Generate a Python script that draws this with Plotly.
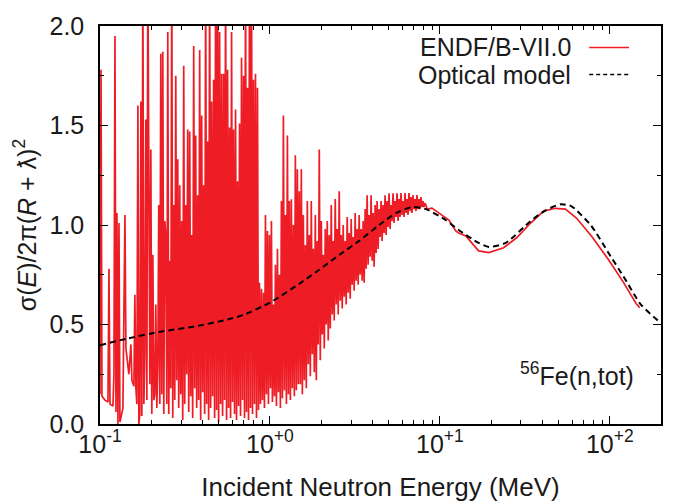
import plotly.graph_objects as go

# ---------------- data ----------------
endf_energy = [
    0.1000, 0.1000, 0.1014, 0.1027, 0.1070, 0.1114, 0.1129, 0.1145, 0.1192, 0.1208,
    0.1225, 0.1241, 0.1258, 0.1275, 0.1293, 0.1310, 0.1364, 0.1402, 0.1421, 0.1479,
    0.1520, 0.1541, 0.1583, 0.1604, 0.1626, 0.1648, 0.1671, 0.1693, 0.1716, 0.1740,
    0.1763, 0.1787, 0.1812, 0.1836, 0.1861, 0.1887, 0.1912, 0.1938, 0.1965, 0.1991,
    0.2018, 0.2046, 0.2074, 0.2102, 0.2130, 0.2159, 0.2189, 0.2218, 0.2249, 0.2279,
    0.2310, 0.2342, 0.2373, 0.2406,
    0.2438, 0.2472, 0.2505, 0.2539, 0.2574, 0.2609, 0.2644, 0.2680, 0.2717, 0.2754,
    0.2791, 0.2829, 0.2867, 0.2906, 0.2946, 0.2986, 0.3026, 0.3068, 0.3109, 0.3152,
    0.3194, 0.3238, 0.3282, 0.3327, 0.3372, 0.3418, 0.3464, 0.3511, 0.3559, 0.3607,
    0.3656, 0.3706, 0.3757, 0.3808, 0.3859, 0.3912, 0.3965, 0.4019, 0.4074, 0.4129,
    0.4185, 0.4242, 0.4300, 0.4358, 0.4417, 0.4477, 0.4538, 0.4600, 0.4663, 0.4726,
    0.4790, 0.4855, 0.4921, 0.4988, 0.5056, 0.5125, 0.5194, 0.5265, 0.5337, 0.5409,
    0.5483, 0.5557, 0.5633, 0.5709, 0.5787, 0.5866, 0.5946, 0.6026, 0.6108, 0.6191,
    0.6276, 0.6361, 0.6447, 0.6535, 0.6624, 0.6714, 0.6805, 0.6898, 0.6992, 0.7087,
    0.7183, 0.7281, 0.7380, 0.7480, 0.7582, 0.7685, 0.7789, 0.7895, 0.8003, 0.8111,
    0.8222, 0.8333, 0.8447, 0.8561, 0.8678, 0.8796, 0.8915, 0.9037, 0.9160, 0.9284,
    0.9410, 0.9538, 0.9668, 0.9799, 0.9933, 1.007, 1.020, 1.034, 1.048, 1.063,
    1.077, 1.092, 1.107, 1.122, 1.137, 1.152, 1.168, 1.184, 1.200, 1.216,
    1.233, 1.250, 1.267, 1.284, 1.301, 1.319, 1.337, 1.355, 1.374, 1.392,
    1.411, 1.430, 1.450, 1.469,
    1.489, 1.510, 1.530, 1.551, 1.572, 1.593, 1.615, 1.637, 1.659, 1.682,
    1.705, 1.728, 1.751, 1.775, 1.799, 1.824, 1.849, 1.874, 1.899, 1.925,
    1.951, 1.978, 2.005, 2.032, 2.060, 2.088, 2.116, 2.145, 2.174, 2.203,
    2.233, 2.264, 2.295, 2.326, 2.357, 2.389, 2.422, 2.455, 2.488, 2.522,
    2.556, 2.591, 2.626, 2.662, 2.698, 2.735, 2.772, 2.810, 2.848, 2.887,
    2.926, 2.966, 3.006, 3.047, 3.088, 3.130, 3.173, 3.216, 3.260, 3.304,
    3.349, 3.395, 3.441, 3.488, 3.535, 3.583, 3.632, 3.681, 3.731, 3.782,
    3.833, 3.885, 3.938, 3.992, 4.046, 4.101, 4.157, 4.213, 4.271, 4.329,
    4.388, 4.447, 4.508, 4.569, 4.631, 4.694, 4.758, 4.823, 4.888, 4.955,
    5.022, 5.090, 5.159, 5.230, 5.301, 5.373, 5.446, 5.520, 5.595, 5.671,
    5.748, 5.826, 5.905, 5.986, 6.067, 6.150, 6.233, 6.318, 6.404, 6.491,
    6.579, 6.669, 6.759, 6.851, 6.944, 7.039, 7.135, 7.232, 7.330, 7.429,
    7.531, 7.633, 7.737, 7.842, 7.949, 8.057, 8.166, 8.277, 8.390,
    8.976, 10.3, 11.3, 12.4, 13.0, 14.2, 16.9, 19.4, 23.7, 28.3,
    34.2, 40.7, 47.9, 54.8, 63.6, 77.9, 98.0, 120.0, 143.0, 150.0,
]
endf_sigma = [
    0.52, 0.15, 1.78, 0.14, 0.12, 0.11, 0.78, 0.10, 0.09, 0.25,
    1.95, 0.06, 1.06, 0.00, 1.01, 0.01, 0.08, 1.05, 0.38, 0.25,
    0.40, 0.22, 0.19, 0.65, 0.18, 0.10, 1.60, 0.00, 0.05, 1.62,
    0.04, 2.30, 0.10, 0.35, 1.53, 0.12, 2.30, 1.15, 0.20, 1.38,
    0.05, 0.85, 0.12, 0.15, 0.60, 0.08, 0.30, 1.10, 0.10, 1.86,
    0.15, 1.87, 0.05, 1.02,
    0.95, 0.10, 1.97, 0.05, 0.82, 0.18, 2.30, 0.03, 1.10, 0.12,
    1.75, 0.22, 1.33, 0.08, 1.20, 0.15, 1.02, 0.02, 1.80, 0.10,
    1.10, 0.25, 1.48, 0.06, 1.47, 0.14, 0.95, 0.03, 1.90, 0.18,
    1.45, 0.08, 1.15, 0.12, 1.88, 0.02, 1.55, 0.16, 1.20, 0.05,
    2.30, 0.10, 1.42, 0.02, 2.30, 0.08, 1.62, 0.14, 1.73, 0.03,
    2.30, 0.07, 2.30, 0.01, 1.97, 0.10, 1.76, 0.04, 1.76, 0.12,
    2.30, 0.02, 1.78, 0.08, 1.49, 0.03, 1.97, 0.11, 1.48, 0.05,
    1.58, 0.02, 1.22, 0.09, 1.51, 0.04, 1.84, 0.12, 1.75, 0.03,
    2.30, 0.06, 1.69, 0.02, 2.30, 0.08, 2.30, 0.05, 1.73, 0.10,
    1.76, 0.03, 1.69, 0.07, 0.71, 0.10, 0.68, 0.12, 0.66, 0.08,
    1.05, 0.15, 0.97, 0.10, 0.95, 0.18, 1.02, 0.11, 0.60, 0.14,
    0.80, 0.09, 0.88, 0.16, 0.75, 0.08, 1.12, 0.13, 1.55, 0.17,
    1.05, 0.10, 1.45, 0.15, 1.12, 0.12, 1.13, 0.18, 1.00, 0.14,
    1.35, 0.17, 1.28, 0.20,
    1.17, 0.20, 1.28, 0.15, 1.05, 0.22, 0.90, 0.18, 1.12, 0.30,
    0.95, 0.24, 1.12, 0.35, 0.88, 0.26, 1.05, 0.22, 0.92, 0.40,
    1.38, 0.32, 1.02, 0.45, 0.85, 0.38, 0.98, 0.50, 1.02, 0.42,
    0.95, 0.48, 1.10, 0.55, 0.92, 0.52, 1.13, 0.60, 0.98, 0.55,
    1.17, 0.62, 0.95, 0.58, 1.00, 0.64, 0.92, 0.60, 1.04, 0.66,
    0.96, 0.63, 1.03, 0.70, 0.94, 0.67, 1.06, 0.72, 0.98, 0.70,
    1.05, 0.75, 0.98, 0.72, 1.02, 0.71, 1.08, 0.78, 1.15, 0.80,
    1.05, 0.84, 1.15, 0.82, 1.06, 0.79, 1.10, 0.86, 1.12, 0.88,
    1.08, 0.94, 1.12, 0.92, 1.10, 0.96, 1.15, 0.95, 1.12, 0.99,
    1.16, 0.98, 1.10, 1.02, 1.16, 1.01, 1.12, 1.04, 1.16, 1.02,
    1.13, 1.04, 1.16, 1.05, 1.12, 1.04, 1.16, 1.06, 1.13, 1.05,
    1.16, 1.07, 1.14, 1.06, 1.15, 1.08, 1.13, 1.07, 1.15, 1.08,
    1.13, 1.08, 1.14, 1.09, 1.12, 1.09, 1.11, 1.10, 1.08,
    1.085, 1.05, 1.025, 0.97, 0.958, 0.945, 0.87, 0.861, 0.886, 0.936,
    1.01, 1.07, 1.084, 1.08, 1.035, 0.945, 0.827, 0.713, 0.604, 0.585,
]

om_energy = [0.1, 0.146, 0.231, 0.361, 0.563, 0.709, 1.02, 1.49, 1.95, 2.56,
             3.35, 4.39, 5.52, 6.85, 8.28, 10.8, 12.9, 16.9, 19.4, 24.4,
             34.2, 41.9, 51.3, 59.5, 77.9, 98.0, 123.0, 151.0, 192.0, 200.0]
om_sigma = [0.396, 0.43, 0.465, 0.49, 0.525, 0.55, 0.614, 0.705, 0.775, 0.85,
            0.92, 1.0, 1.06, 1.09, 1.08, 1.025, 0.975, 0.91, 0.89, 0.91,
            1.02, 1.074, 1.104, 1.094, 0.995, 0.861, 0.728, 0.604, 0.52, 0.512]

x_tick_vals = [0.1, 1, 10, 100]
x_tick_text = ["10<sup>-1</sup>", "10<sup>+0</sup>", "10<sup>+1</sup>", "10<sup>+2</sup>"]
x_minor_vals = [0.2, 0.3, 0.4, 0.5, 0.6, 0.7, 0.8, 0.9,
                2, 3, 4, 5, 6, 7, 8, 9,
                20, 30, 40, 50, 60, 70, 80, 90]
y_tick_vals = [0.0, 0.5, 1.0, 1.5, 2.0]
y_tick_text = ["0.0", "0.5", "1.0", "1.5", "2.0"]

series_names = ["ENDF/B-VII.0", "Optical model"]
annotation_label = "<sup>56</sup>Fe(n,tot)"
x_title = "Incident Neutron Energy (MeV)"
y_title = "σ(<i>E</i>)/2π(<i>R</i> + ƛ)<sup>2</sup>"

# ---------------- styling ----------------
RED = "#ee1c25"
TXT = "#1a1a1a"
FS = 25
FONT = "Liberation Sans"

fig = go.Figure()
fig.add_trace(go.Scatter(x=endf_energy, y=endf_sigma, mode="lines",
                         line=dict(color=RED, width=1.7), name=series_names[0],
                         showlegend=False))
fig.add_trace(go.Scatter(x=om_energy, y=om_sigma, mode="lines",
                         line=dict(color="black", width=2, dash="6px,4px",
                                   shape="spline", smoothing=0.6),
                         name=series_names[1], showlegend=False))

axis_common = dict(showline=True, linecolor="black", linewidth=1.5,
                   mirror="allticks", ticks="inside", ticklen=8, tickwidth=1.2,
                   tickcolor="black", showgrid=False, zeroline=False,
                   tickfont=dict(family=FONT, size=FS, color=TXT))

fig.update_xaxes(type="log", range=[-1, 2.30103], tickmode="array",
                 tickvals=x_tick_vals, ticktext=x_tick_text,
                 minor=dict(tickmode="array", tickvals=x_minor_vals, ticks="inside",
                            ticklen=4, tickwidth=1, tickcolor="black", showgrid=False),
                 ticklabelstandoff=-3, automargin=False,
                 title=dict(text=x_title, standoff=21,
                            font=dict(family=FONT, size=26, color=TXT)),
                 **axis_common)
fig.update_yaxes(range=[0, 2], tickmode="array", tickvals=y_tick_vals,
                 ticktext=y_tick_text,
                 minor=dict(dtick=0.25, ticks="inside", ticklen=4, tickwidth=1,
                            tickcolor="black", showgrid=False),
                 ticklabelstandoff=9, automargin=True,
                 title=dict(text=y_title, standoff=6,
                            font=dict(family=FONT, size=FS, color=TXT)),
                 **axis_common)

# legend drawn gnuplot-style (text, then sample on the right)
fig.add_annotation(x=0.843, y=0.946, xref="paper", yref="paper", text=series_names[0],
                   showarrow=False, xanchor="right", yanchor="middle",
                   font=dict(family=FONT, size=FS, color=TXT))
fig.add_annotation(x=0.843, y=0.878, xref="paper", yref="paper", text=series_names[1],
                   showarrow=False, xanchor="right", yanchor="middle",
                   font=dict(family=FONT, size=FS, color=TXT))
fig.add_shape(type="line", xref="paper", yref="paper", x0=0.872, x1=0.943,
              y0=0.946, y1=0.946, line=dict(color=RED, width=1.3))
fig.add_shape(type="line", xref="paper", yref="paper", x0=0.872, x1=0.943,
              y0=0.878, y1=0.878, line=dict(color="black", width=1.5, dash="4px,3px"))

fig.add_annotation(x=0.955, y=0.125, xref="paper", yref="paper", text=annotation_label,
                   showarrow=False, xanchor="right", yanchor="middle",
                   font=dict(family=FONT, size=FS, color=TXT))

fig.update_layout(width=683, height=504, margin=dict(l=100, r=22, t=20, b=80),
                  paper_bgcolor="white", plot_bgcolor="white", showlegend=False,
                  font=dict(family=FONT, size=FS, color=TXT))

fig.write_html("out.html")
